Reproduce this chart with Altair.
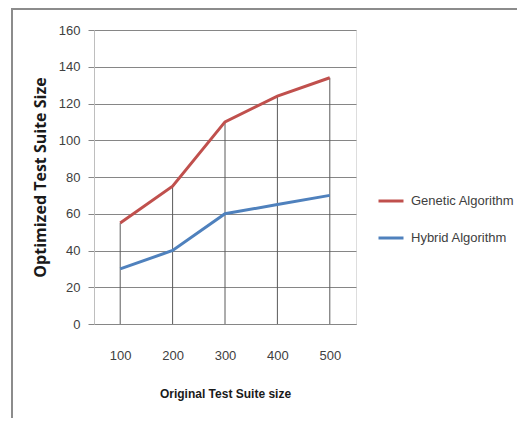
import altair as alt
import pandas as pd

sizes = [100, 200, 300, 400, 500]
genetic = [55, 75, 110, 124, 134]
hybrid = [30, 40, 60, 65, 70]
series_names = ["Genetic Algorithm", "Hybrid Algorithm"]
series_colors = ["#C0504D", "#4F81BD"]
y_ticks = [0, 20, 40, 60, 80, 100, 120, 140, 160]

rows = []
for s, g, h in zip(sizes, genetic, hybrid):
    rows.append({"size": str(s), "series": series_names[0], "value": g})
    rows.append({"size": str(s), "series": series_names[1], "value": h})
df = pd.DataFrame(rows)
drop = pd.DataFrame({"size": [str(s) for s in sizes],
                     "top": [max(g, h) for g, h in zip(genetic, hybrid)],
                     "zero": [0] * len(sizes)})

W, H = 262, 294
FONT = "Liberation Sans"

x_enc = alt.X("size:O", scale=alt.Scale(type="point", padding=0.5),
              sort=[str(s) for s in sizes],
              axis=alt.Axis(title="Original Test Suite size", labelAngle=0,
                            ticks=False, tickSize=0, labelPadding=25,
                            domain=True, domainColor="#868686",
                            labelFont=FONT, labelFontSize=13, labelColor="#404040",
                            titleFont=FONT, titleFontSize=12, titleFontWeight="bold",
                            titleColor="#1a1a1a", titleY=69, titleBaseline="middle"))

y_scale = alt.Scale(domain=[0, 160], nice=False)
y_axis = alt.Axis(title="Optimized Test Suite Size", values=y_ticks,
                  grid=True, gridColor="#868686", gridWidth=1,
                  domainColor="#BEBEBE", tickColor="#868686", tickSize=6,
                  labelPadding=8, labelFont=FONT, labelFontSize=13,
                  labelColor="#404040",
                  titleFont="Open Sans", titleFontSize=16, titleFontWeight="bold",
                  titleColor="#1a1a1a", titleX=-54, titleY=H / 2,
                  titleBaseline="middle")

drops = alt.Chart(drop).mark_rule(color="#5a5a5a", strokeWidth=1).encode(
    x=x_enc,
    y=alt.Y("zero:Q", scale=y_scale, axis=y_axis),
    y2="top:Q",
)

lines = alt.Chart(df).mark_line(strokeWidth=3).encode(
    x=x_enc,
    y=alt.Y("value:Q", scale=y_scale, axis=y_axis),
    color=alt.Color("series:N",
                    scale=alt.Scale(domain=series_names, range=series_colors),
                    legend=alt.Legend(title=None, orient="none", legendX=283, legendY=157,
                                      symbolType="stroke", symbolSize=625,
                                      symbolStrokeWidth=3, labelFont=FONT,
                                      labelFontSize=13, labelColor="#404040",
                                      labelOffset=6, rowPadding=16)),
    order=alt.Order("size:O"),
)

border_top = alt.Chart(drop).mark_rule(color="#8c8c8c", strokeWidth=2).encode(
    x=alt.value(-82), x2=alt.value(520), y=alt.value(-21))
border_left = alt.Chart(drop).mark_rule(color="#8c8c8c", strokeWidth=2).encode(
    x=alt.value(-82), y=alt.value(-22), y2=alt.value(420))

chart = alt.layer(
    drops, lines, border_top, border_left
).properties(
    width=W, height=H,
    padding={"left": 86, "top": 22, "right": 161, "bottom": 94},
    autosize=alt.AutoSizeParams(type="none"),
).configure_view(stroke=None).configure(background="white")

chart.save("out.html", embed_options={"renderer": "svg", "actions": False})
